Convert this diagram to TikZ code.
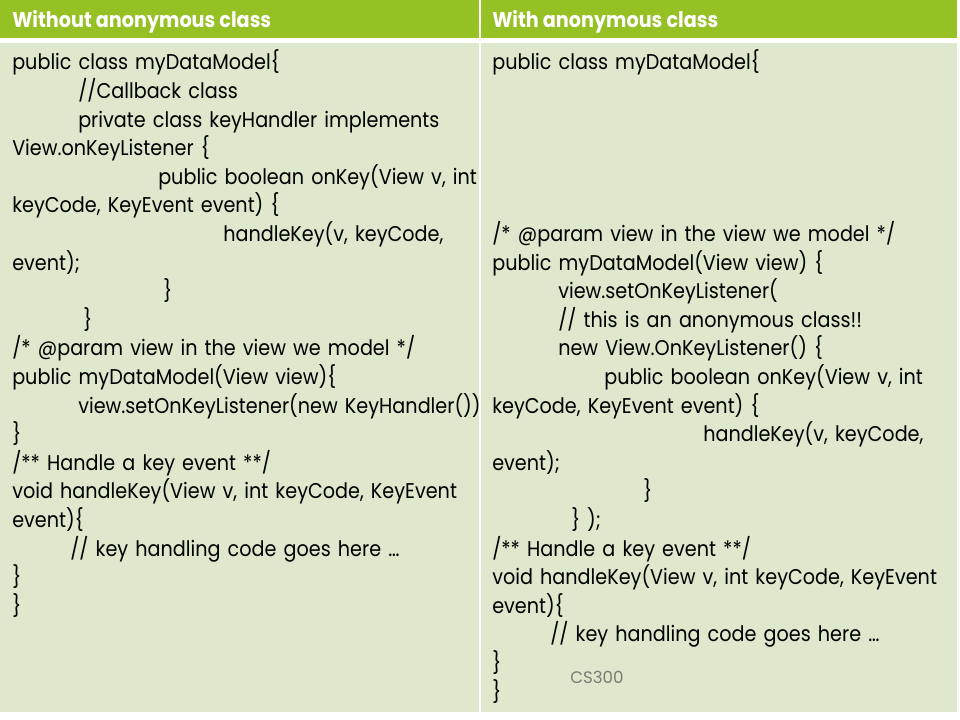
\documentclass[tikz,border=0pt]{standalone}
\usepackage{fontspec}
\setmainfont{Poppins}[FakeStretch=0.9]
\newfontfamily\footfont{Poppins}
\usepackage{tikz}
\usetikzlibrary{positioning}
\definecolor{headgreen}{RGB}{150,193,36}
\definecolor{cellgreen}{RGB}{221,232,204}
\definecolor{footgray}{RGB}{120,124,116}
\newcommand\codefont{\fontsize{16bp}{21.45bp}\selectfont}
\newcommand\indbp[1]{\hspace*{#1bp}}
\tikzset{
  head/.style={anchor=base west,inner sep=0pt,text=white,font=\fontsize{16bp}{21.45bp}\selectfont\bfseries},
  code/.style={anchor=base west,inner sep=0pt,text width=420bp,align=left,font=\codefont},
}

\begin{document}
\begin{tikzpicture}
\useasboundingbox (0bp,0bp) rectangle (720bp,540bp);
%%
\fill [headgreen] (0bp,540bp) rectangle (359.25bp,511.5bp);
\fill [headgreen] (360.75bp,540bp) rectangle (717.75bp,511.5bp);
\fill [cellgreen] (0bp,507.75bp) rectangle (359.25bp,6bp);
\fill [cellgreen] (360.75bp,507.75bp) rectangle (717.75bp,6bp);
%%
\node (h1) at (9bp,519bp) [head] {Without anonymous class};
\node (h2) at (369bp,519bp) [head] {With anonymous class};
%%
\node (c1) at (9bp,487.5bp) [code] {public class myDataModel\{\\
\indbp{49.5}//Callback class\\
\indbp{49.5}private class keyHandler implements\\
View.onKeyListener \{\\
\indbp{109.5}public boolean onKey(View v, int\\
keyCode, KeyEvent event) \{\\
\indbp{158.25}handleKey(v, keyCode,\\
event);\\
\indbp{113.25}\}\\
\indbp{53.25}\}\\
/* @param view in the view we model */\\
public myDataModel(View view)\{\\
\indbp{49.5}view.setOnKeyListener(new KeyHandler())\\
\}\\
/** Handle a key event **/\\
void handleKey(View v, int keyCode, KeyEvent\\
event)\{\\
\indbp{43.5}// key handling code goes here …\\
\}\\
\}};
\node (c2) at (369bp,487.5bp) [code] {public class myDataModel\{\\
\mbox{}\\
\mbox{}\\
\mbox{}\\
\mbox{}\\
\mbox{}\\
/* @param view in the view we model */\\
public myDataModel(View view) \{\\
\indbp{49.5}view.setOnKeyListener(\\
\indbp{49.5}// this is an anonymous class!!\\
\indbp{49.5}new View.OnKeyListener() \{\\
\indbp{84}public boolean onKey(View v, int\\
keyCode, KeyEvent event) \{\\
\indbp{158.25}handleKey(v, keyCode,\\
event);\\
\indbp{113.25}\}\\
\indbp{59.25}\} );\\
/** Handle a key event **/\\
void handleKey(View v, int keyCode, KeyEvent\\
event)\{\\
\indbp{43.5}// key handling code goes here …\\
\}\\
\}};
%
\node (foot) at (427.5bp,27.75bp) [anchor=base west,inner sep=0pt,text=footgray,font=\footfont\fontsize{12.5bp}{14bp}\selectfont] {CS300};
\end{tikzpicture}
\end{document}
